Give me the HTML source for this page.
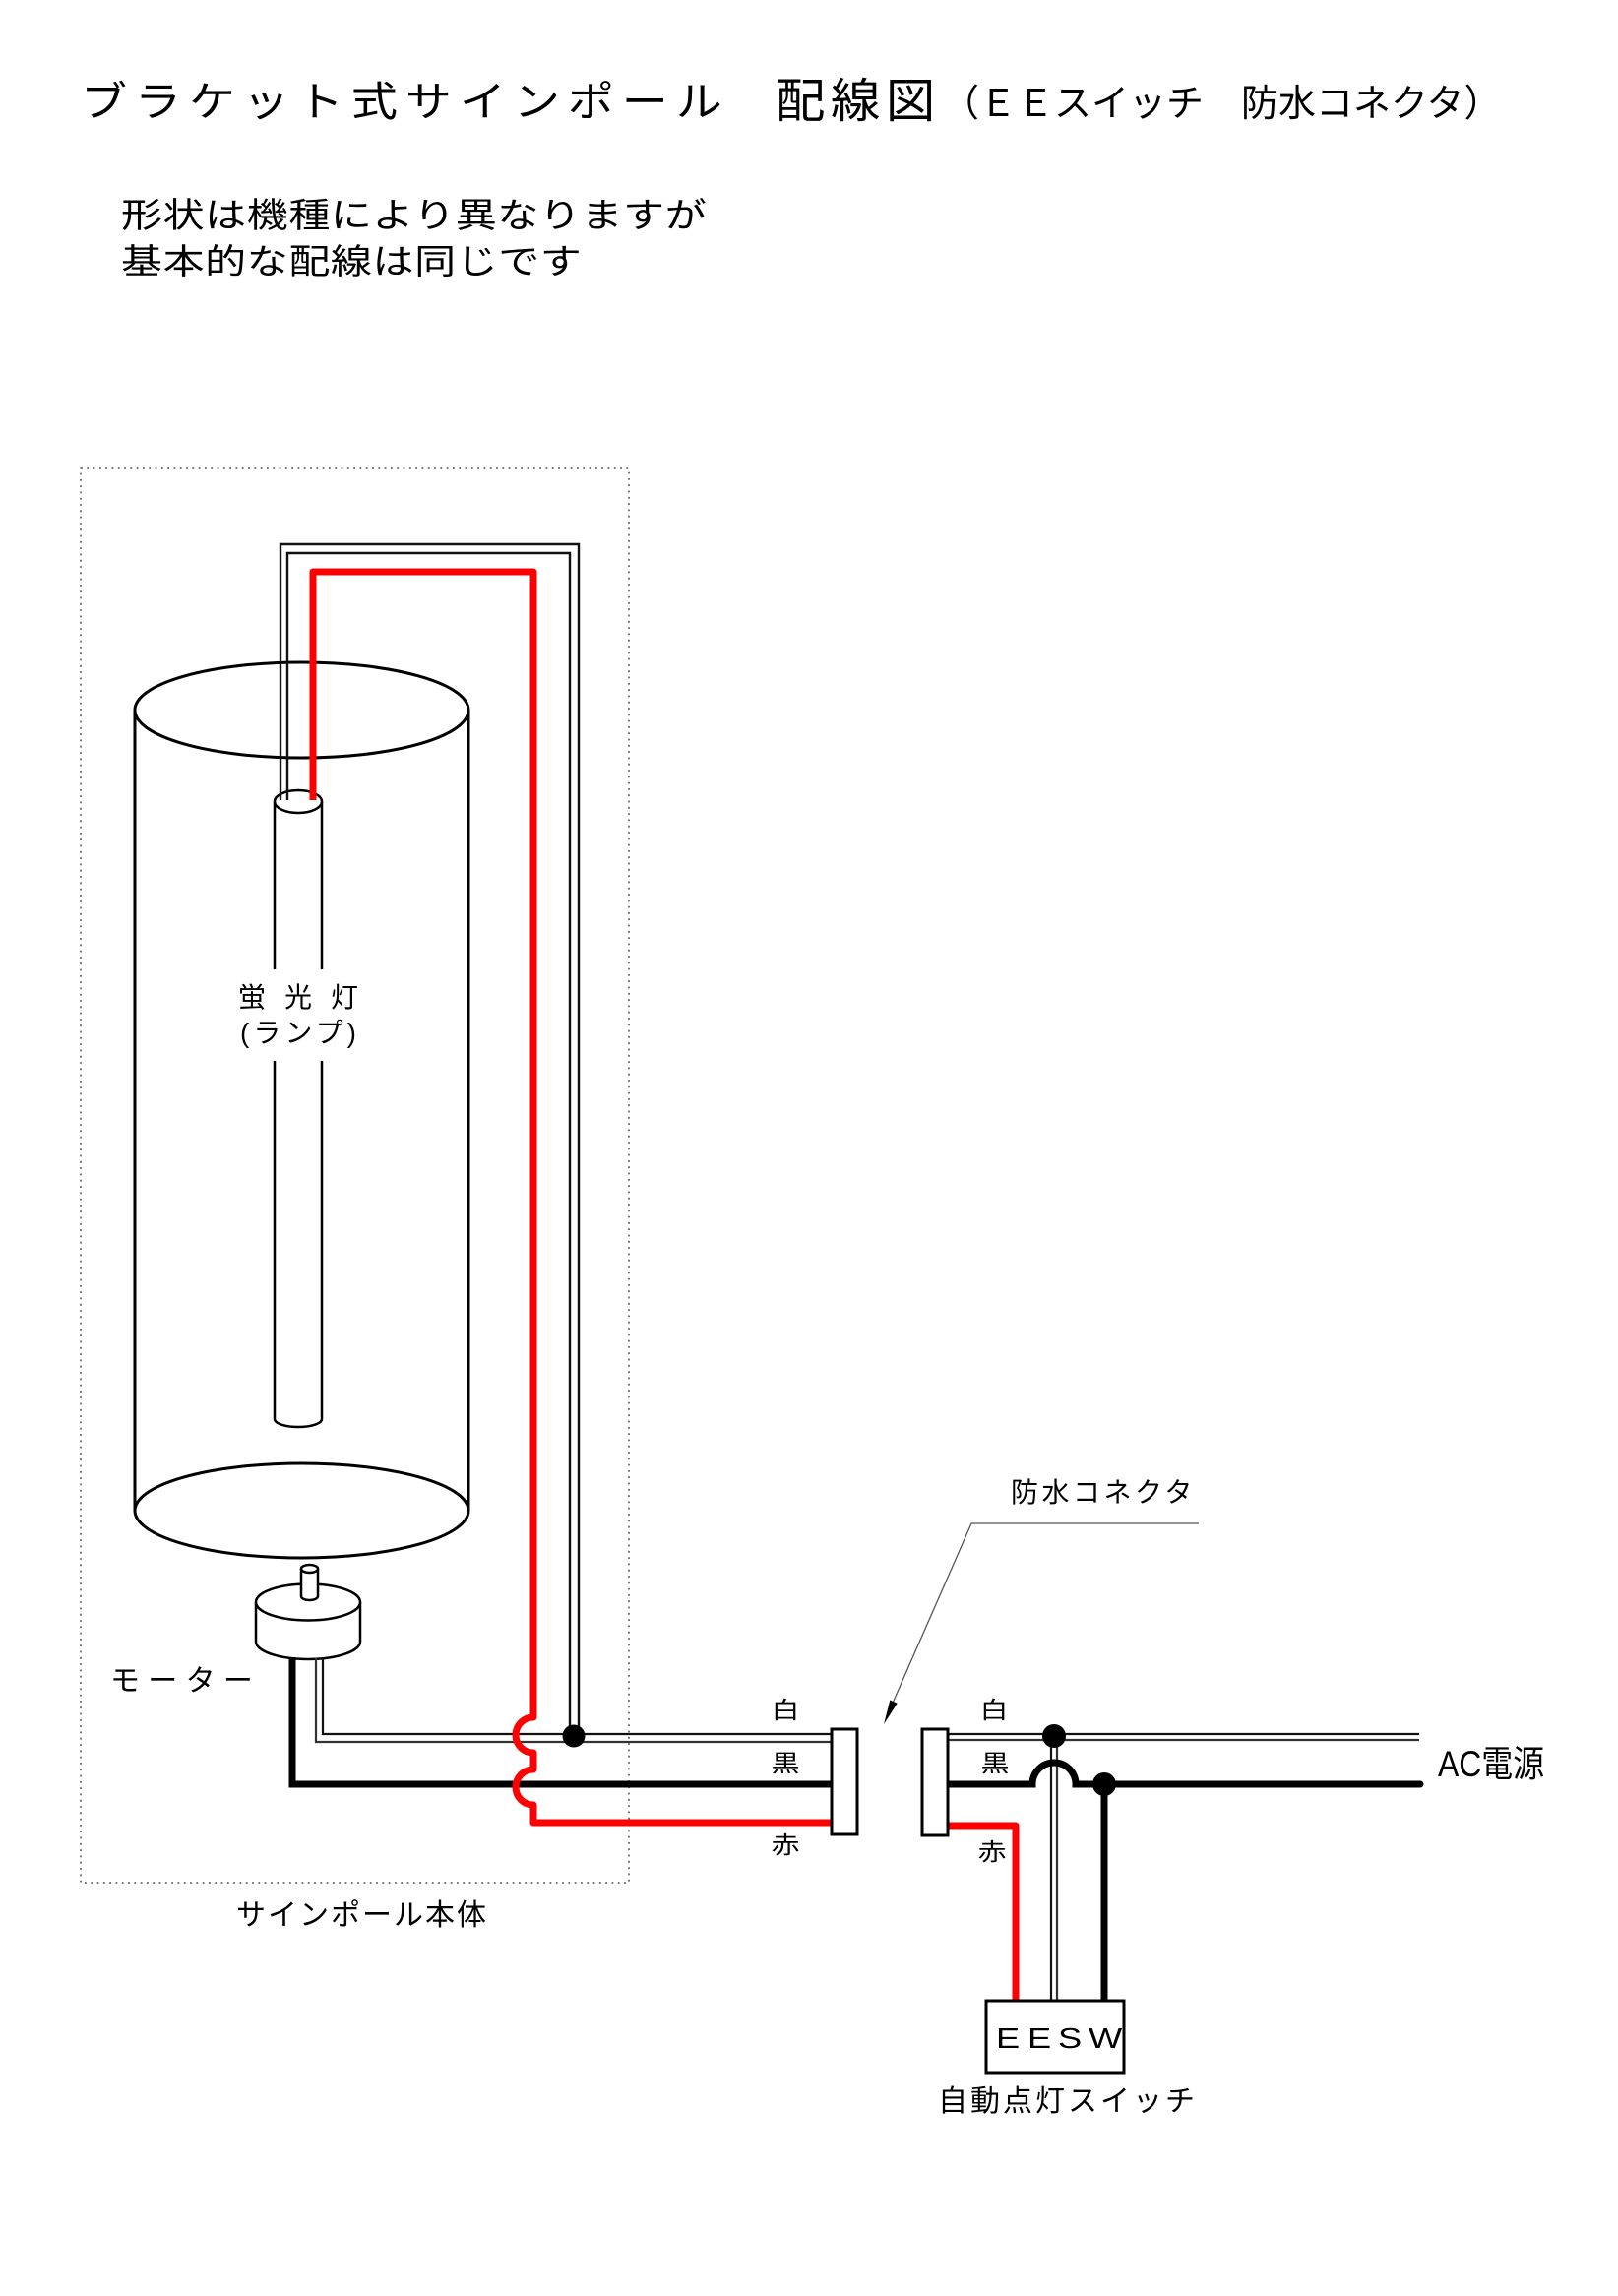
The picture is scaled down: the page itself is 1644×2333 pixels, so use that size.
<!DOCTYPE html>
<html><head><meta charset="utf-8">
<style>
html,body{margin:0;padding:0;background:#fff;}
svg{display:block;}
text{font-family:"Liberation Sans","Noto Sans CJK JP",sans-serif;fill:#000;}
</style></head><body>
<svg width="1644" height="2333" viewBox="0 0 1644 2333" xmlns="http://www.w3.org/2000/svg">
<rect width="1644" height="2333" fill="#fff"/>

<!-- Titles -->
<text transform="translate(82,118) scale(1.12,1)" font-size="42" letter-spacing="7.1">ブラケット式サインポール</text>
<text transform="translate(788,119) scale(1.05,1)" font-size="48" letter-spacing="5.3">配線図</text>
<text x="957" y="118" font-size="38">（ＥＥスイッチ　防水コネクタ）</text>

<text transform="translate(123,231) scale(1.2,1)" font-size="35" letter-spacing="0.5">形状は機種により異なりますが</text>
<text transform="translate(123,278) scale(1.2,1)" font-size="35" letter-spacing="0.5">基本的な配線は同じです</text>

<!-- Dotted body box -->
<rect x="82" y="476" width="557" height="1437" fill="none" stroke="#666" stroke-width="1.8" stroke-dasharray="1.8 4.5"/>

<!-- Cylinder -->
<path d="M137,721.5 V1535 M476,721.5 V1535" stroke="#000" stroke-width="3" fill="none"/>
<ellipse cx="306.5" cy="721.5" rx="169.5" ry="48.5" fill="none" stroke="#000" stroke-width="3"/>
<ellipse cx="306.5" cy="1535" rx="169.5" ry="48" fill="none" stroke="#000" stroke-width="3"/>

<!-- Lamp -->
<path d="M279,814.5 V1442 A24,8 0 0 0 327,1442 V814.5" fill="none" stroke="#000" stroke-width="2.5"/>
<ellipse cx="303" cy="814.5" rx="24" ry="11.5" fill="#fff" stroke="#000" stroke-width="2.5"/>

<!-- Lamp label -->
<rect x="238" y="985" width="132" height="93" fill="#fff"/>
<text x="242" y="1023" font-size="28">蛍</text>
<text x="289" y="1023" font-size="28">光</text>
<text x="336" y="1023" font-size="28">灯</text>
<text x="244" y="1059" font-size="28" textLength="118" lengthAdjust="spacing">(ランプ)</text>

<!-- Motor -->
<path d="M260,1628 V1668 A53,18 0 0 0 366,1668 V1628" fill="#fff" stroke="#000" stroke-width="2.5"/>
<ellipse cx="313" cy="1628" rx="53" ry="18.5" fill="#fff" stroke="#000" stroke-width="2.5"/>
<path d="M306,1594 V1622 A8.5,4 0 0 0 323,1622 V1594" fill="#fff" stroke="#000" stroke-width="2.5"/>
<ellipse cx="314.5" cy="1594" rx="8.5" ry="4" fill="#fff" stroke="#000" stroke-width="2.5"/>
<text x="112" y="1718" font-size="30" letter-spacing="8.3">モーター</text>

<!-- White wire (double line) from lamp top loop -->
<path d="M285,813 V553 H588 V1764" fill="none" stroke="#111" stroke-width="2.4"/>
<path d="M292,813 V562 H579 V1764" fill="none" stroke="#111" stroke-width="2.4"/>

<!-- White wire from motor -->
<path d="M328,1685 V1762 H845" fill="none" stroke="#111" stroke-width="2.2"/>
<path d="M321,1685 V1770 H845" fill="none" stroke="#333" stroke-width="2.2"/>

<!-- Black wire from motor -->
<path d="M297,1684 V1813 H845" fill="none" stroke="#000" stroke-width="7"/>

<!-- Red wire -->
<path d="M318,813 V581 H542 V1745 A18,18 0 0 0 542,1781 V1798 A18,18 0 0 0 542,1834 V1852 H845" fill="none" stroke="#ff0000" stroke-width="7" stroke-linejoin="round"/>

<!-- Junction dot left -->
<circle cx="583" cy="1764" r="11.5" fill="#000"/>

<!-- Left connector -->
<rect x="845" y="1757" width="26" height="107" fill="#fff" stroke="#000" stroke-width="3"/>
<text transform="translate(798,1746) scale(1.2,1)" text-anchor="middle" font-size="24">白</text>
<text transform="translate(798,1800) scale(1.2,1)" text-anchor="middle" font-size="24">黒</text>
<text transform="translate(798,1883) scale(1.2,1)" text-anchor="middle" font-size="24">赤</text>

<!-- Leader to connector -->
<path d="M1218,1548 H987 L905,1735" fill="none" stroke="#555" stroke-width="1.3"/>
<polygon points="898,1752 911.7,1730.7 904.3,1727.5" fill="#000"/>
<text x="1027" y="1526" font-size="28" letter-spacing="3.5">防水コネクタ</text>

<!-- Right side wires -->
<path d="M963,1762 H1442" stroke="#111" stroke-width="2.2" fill="none"/>
<path d="M963,1768 H1442" stroke="#333" stroke-width="2.2" fill="none"/>
<path d="M1068,1764 V2033" stroke="#111" stroke-width="2.2" fill="none"/>
<path d="M1074,1764 V2033" stroke="#333" stroke-width="2.2" fill="none"/>
<path d="M963,1813 H1049 A22,22 0 0 1 1093,1813 H1443" fill="none" stroke="#000" stroke-width="7" stroke-linecap="round"/>
<path d="M1122,1813 V2033" fill="none" stroke="#000" stroke-width="7"/>
<path d="M963,1855 H1032 V2033" fill="none" stroke="#ff0000" stroke-width="7" stroke-linejoin="round"/>
<circle cx="1071" cy="1764" r="12" fill="#000"/>
<circle cx="1122" cy="1813" r="12" fill="#000"/>

<!-- Right connector -->
<rect x="937" y="1757" width="26" height="108" fill="#fff" stroke="#000" stroke-width="3"/>
<text transform="translate(1010,1746) scale(1.2,1)" text-anchor="middle" font-size="24">白</text>
<text transform="translate(1011,1800) scale(1.2,1)" text-anchor="middle" font-size="24">黒</text>
<text transform="translate(1008,1890) scale(1.2,1)" text-anchor="middle" font-size="24">赤</text>

<!-- AC power -->
<text x="1461" y="1805" font-size="37" textLength="108" lengthAdjust="spacingAndGlyphs">AC電源</text>

<!-- EESW box -->
<rect x="1002" y="2033" width="140" height="73" fill="#fff" stroke="#000" stroke-width="3"/>
<text transform="translate(0,2081) scale(1.25,1)" x="809.6 835.2 860 884.8" y="0" font-size="29">EESW</text>
<text x="953" y="2145" font-size="30" letter-spacing="3">自動点灯スイッチ</text>

<!-- Body label -->
<text x="240" y="1956" font-size="30" letter-spacing="2">サインポール本体</text>

</svg>
</body></html>
